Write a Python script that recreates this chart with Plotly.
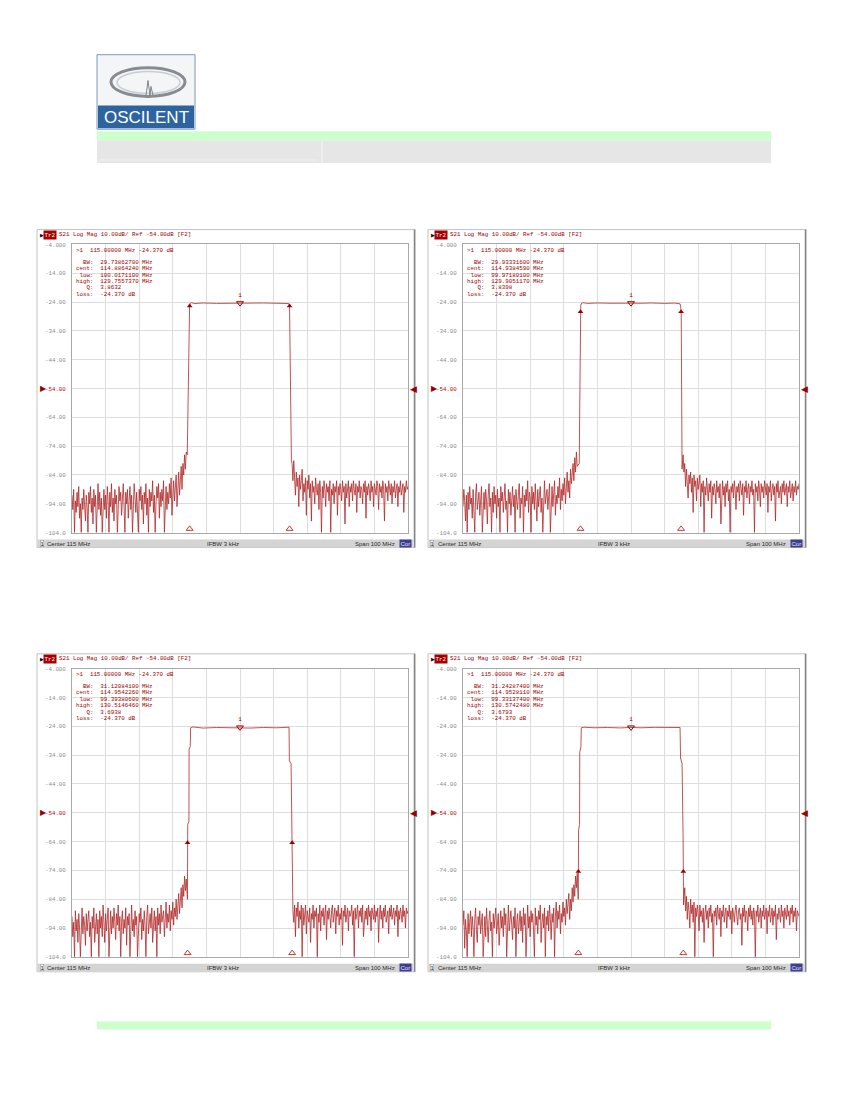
import plotly.graph_objects as go

# the page body keeps an 8 px margin, so the figure is drawn 8 px in
OFF = 8
W, H = 850 - 2 * OFF, 1100 - 2 * OFF

# sweep settings shown on the analyser screens
F_START, F_STOP, F_CENTER = 65.0, 165.0, 115.0
DB_TOP, DB_BOTTOM, DB_REF = -4.0, -104.0, -54.0
NOISE_STEP = 0.25     # MHz between stop-band samples
RIGHT_START = 130.5   # first upper stop-band sample (MHz)

x_grid = [65, 75, 85, 95, 105, 115, 125, 135, 145, 155, 165]
y_ticks = [-4, -14, -24, -34, -44, -54, -64, -74, -84, -94, -104]
y_tick_labels = ['-4.000', '-14.00', '-24.00', '-34.00', '-44.00', '-54.00',
                 '-64.00', '-74.00', '-84.00', '-94.00', '-104.0']

# marker readouts, one entry per screen
bw_mhz = ['29.73862700', '29.93331600', '31.12084100', '31.24287400']
cent_mhz = ['114.8864240', '114.9384590', '114.9542260', '114.9528110']
low_mhz = ['100.0171100', '99.97180100', '99.39380600', '99.33137400']
high_mhz = ['129.7557370', '129.9051170', '130.5146460', '130.5742480']
q_val = ['3.8632', '3.8398', '3.6938', '3.6793']
bw_drop_db = [1, 3, 40, 50]
marker1_mhz = 115.0
marker1_db = -24.370

# screen 1: lower stop band 65..99 MHz, pass band, upper stop band 130.5..165 MHz
p1_left_db = [-91, -96, -89, -104, -93, -97, -90, -95, -88, -99, -94, -104, -92, -96, -89, -93, -100, -91, -95, -104,
              -90, -94, -88, -97, -92, -101, -89, -95, -91, -104, -93, -87, -96, -90, -98, -92, -104, -94, -89, -96,
              -91, -99, -88, -93, -104, -90, -95, -87, -97, -92, -100, -89, -94, -91, -104, -96, -88, -93, -90, -98,
              -92, -87, -95, -104, -90, -94, -89, -99, -93, -88, -96, -91, -104, -94, -87, -92, -97, -90, -95, -104,
              -89, -93, -88, -96, -91, -101, -90, -94, -87, -98, -92, -104, -89, -95, -90, -93, -86, -97, -91, -104,
              -94, -88, -92, -87, -99, -90, -95, -89, -93, -86, -104, -91, -88, -96, -90, -94, -87, -92, -85, -98,
              -90, -86, -93, -88, -84, -95, -87, -83, -91, -85, -81, -89, -80, -84, -77, -82, -76]
p1_band_mhz = [99.3, 99.5, 99.8, 100.0, 100.2, 100.6, 101.4, 104, 108, 112,
               115, 118, 122, 126, 128.5, 129.5, 129.75, 129.9, 130.1, 130.3]
p1_band_db = [-77, -62, -30, -25.2, -24.4, -24.2, -24.5, -24.3, -24.45, -24.35,
              -24.37, -24.45, -24.3, -24.4, -24.35, -24.5, -25.3, -40, -70, -79]
p1_right_db = [-80, -86, -79, -84, -91, -83, -88, -85, -95, -84, -89, -86, -82, -93, -87, -90, -85, -98, -86, -89,
               -84, -92, -87, -100, -86, -90, -88, -94, -85, -89, -91, -87, -96, -86, -90, -104, -88, -92, -86, -89,
               -95, -87, -90, -88, -93, -86, -104, -89, -91, -87, -94, -88, -90, -86, -98, -88, -91, -87, -89, -93,
               -86, -90, -88, -101, -87, -92, -89, -86, -95, -88, -90, -87, -93, -86, -89, -91, -87, -97, -88, -90,
               -86, -92, -88, -89, -94, -87, -90, -86, -99, -88, -91, -87, -89, -93, -86, -90, -88, -95, -87, -89,
               -91, -86, -88, -96, -87, -90, -88, -92, -86, -89, -100, -87, -90, -88, -93, -86, -89, -91, -87, -94,
               -88, -90, -86, -92, -89, -87, -95, -88, -90, -86, -91, -89, -87, -97, -88, -90, -86, -89, -88]

# screen 2
p2_left_db = [-95, -89, -93, -100, -91, -104, -90, -96, -88, -94, -92, -99, -89, -95, -104, -91, -87, -96, -93, -90,
              -98, -92, -88, -104, -94, -90, -96, -89, -93, -101, -91, -87, -95, -92, -104, -90, -97, -88, -94, -91,
              -99, -89, -95, -92, -104, -88, -93, -90, -97, -91, -87, -96, -93, -104, -89, -94, -90, -98, -92, -88,
              -95, -91, -104, -89, -93, -96, -90, -87, -99, -92, -94, -88, -104, -91, -95, -89, -93, -86, -97, -90,
              -92, -104, -88, -94, -90, -96, -87, -93, -100, -89, -95, -91, -88, -97, -92, -104, -90, -86, -94, -91,
              -89, -96, -92, -87, -104, -93, -88, -95, -90, -86, -98, -91, -94, -88, -92, -85, -96, -89, -93, -87,
              -91, -85, -94, -88, -83, -90, -86, -92, -82, -87, -84, -80, -86, -78, -83, -76, -81]
p2_band_mhz = [99.6, 99.75, 99.9, 100.05, 100.3, 100.8, 102, 105, 109, 112,
               115, 118, 121, 125, 128, 129.6, 129.8, 129.95, 130.05, 130.2]
p2_band_db = [-80, -60, -28.5, -25.0, -24.4, -24.2, -24.45, -24.3, -24.4, -24.5,
              -24.37, -24.4, -24.3, -24.45, -24.35, -24.6, -25.8, -28.5, -55, -82]
p2_right_db = [-77, -83, -80, -88, -82, -86, -92, -84, -87, -83, -90, -85, -97, -84, -88, -86, -93, -85, -89, -87,
               -84, -95, -87, -90, -86, -104, -88, -91, -85, -89, -93, -87, -90, -86, -99, -88, -91, -87, -89, -94,
               -86, -90, -88, -92, -87, -101, -89, -86, -91, -88, -95, -87, -90, -86, -93, -89, -104, -88, -90, -87,
               -92, -86, -89, -96, -88, -90, -87, -93, -86, -89, -91, -87, -98, -88, -90, -86, -92, -89, -87, -94,
               -88, -90, -86, -91, -89, -104, -87, -90, -88, -93, -86, -89, -95, -87, -90, -88, -92, -86, -89, -91,
               -87, -97, -88, -90, -86, -93, -89, -87, -91, -88, -100, -87, -90, -86, -92, -89, -88, -94, -87, -90,
               -86, -91, -89, -87, -95, -88, -90, -86, -92, -89, -87, -93, -88, -90, -86, -91, -88, -89, -87]

# screen 3
p3_left_db = [-90, -97, -92, -104, -88, -95, -91, -99, -89, -94, -104, -92, -87, -96, -90, -93, -100, -89, -95, -91,
              -88, -97, -92, -104, -90, -94, -87, -99, -93, -89, -96, -91, -104, -88, -94, -90, -97, -86, -92, -99,
              -89, -95, -91, -87, -104, -93, -88, -96, -90, -94, -87, -92, -98, -89, -93, -86, -95, -90, -104, -92,
              -88, -96, -91, -94, -87, -100, -90, -93, -89, -104, -92, -86, -95, -91, -97, -88, -93, -90, -104, -94,
              -89, -92, -87, -98, -91, -95, -88, -93, -104, -90, -86, -96, -92, -89, -94, -87, -99, -91, -88, -95,
              -90, -104, -87, -93, -89, -96, -86, -92, -90, -88, -97, -91, -85, -94, -89, -92, -86, -95, -88, -91,
              -85, -93, -87, -90, -84, -91, -86, -82, -89, -84, -80, -87, -79, -83, -76, -81, -77]
p3_band_mhz = [99.36, 99.39, 99.45, 99.8, 99.85, 100.2, 100.3, 101, 104, 108, 112,
               115, 118, 122, 126, 129.6, 129.7, 130.2, 130.45, 130.51, 130.6]
p3_band_db = [-84, -64.4, -58, -57, -32, -31, -24.5, -24.2, -24.6, -24.4, -24.5,
              -24.37, -24.6, -24.4, -24.5, -24.3, -36, -37, -60, -64.4, -84]
p3_right_db = [-84, -88, -92, -86, -97, -87, -90, -85, -94, -88, -91, -86, -104, -87, -93, -89, -86, -96, -88, -90,
               -92, -87, -99, -89, -91, -86, -94, -88, -90, -87, -104, -89, -92, -86, -95, -88, -90, -87, -93, -89,
               -86, -98, -88, -91, -87, -90, -94, -88, -86, -92, -89, -87, -96, -88, -90, -86, -93, -89, -91, -87,
               -100, -88, -90, -86, -92, -89, -87, -95, -88, -90, -89, -86, -93, -88, -104, -87, -91, -89, -86, -94,
               -88, -90, -87, -92, -86, -97, -89, -88, -91, -87, -93, -86, -90, -88, -95, -87, -89, -91, -86, -92,
               -88, -90, -87, -99, -89, -86, -91, -88, -94, -87, -90, -86, -92, -89, -88, -96, -87, -90, -86, -91,
               -89, -87, -93, -88, -90, -86, -97, -88, -91, -87, -89, -92, -86, -90, -88, -94, -87, -89, -88]

# screen 4
p4_left_db = [-93, -88, -101, -91, -95, -104, -89, -96, -92, -88, -97, -90, -94, -104, -91, -87, -95, -99, -90, -93,
              -88, -96, -92, -89, -104, -94, -90, -97, -87, -93, -99, -91, -88, -95, -92, -104, -89, -94, -90, -87,
              -96, -92, -89, -100, -91, -88, -94, -90, -97, -87, -93, -89, -104, -91, -86, -95, -90, -88, -93, -98,
              -90, -94, -87, -104, -92, -89, -96, -91, -88, -95, -90, -99, -87, -93, -89, -104, -91, -86, -94, -90,
              -97, -88, -92, -89, -95, -104, -87, -93, -90, -96, -88, -91, -86, -99, -92, -89, -94, -87, -104, -90,
              -93, -88, -95, -86, -91, -98, -89, -92, -87, -104, -90, -85, -94, -88, -91, -86, -96, -89, -92, -85,
              -90, -87, -93, -84, -89, -86, -82, -91, -84, -88, -80, -85, -79, -83, -76, -80, -75]
p4_band_mhz = [99.3, 99.33, 99.4, 99.7, 99.75, 100.1, 100.2, 101, 104, 108, 112,
               115, 118, 122, 126, 129.6, 129.75, 130.2, 130.5, 130.57, 130.65]
p4_band_db = [-84, -74.4, -60, -58, -33, -31, -24.5, -24.3, -24.5, -24.4, -24.55,
              -24.37, -24.5, -24.35, -24.5, -24.4, -35, -37, -62, -74.4, -86]
p4_right_db = [-76, -84, -80, -88, -83, -91, -85, -88, -94, -84, -89, -86, -92, -85, -104, -87, -90, -86, -89, -95,
               -86, -90, -88, -92, -87, -99, -89, -86, -91, -88, -94, -87, -90, -86, -92, -89, -104, -88, -90, -87,
               -93, -86, -89, -91, -87, -97, -88, -90, -86, -92, -89, -87, -94, -88, -90, -86, -91, -88, -96, -87,
               -89, -92, -88, -86, -90, -93, -88, -87, -91, -89, -100, -87, -90, -86, -92, -88, -89, -95, -87, -90,
               -86, -91, -88, -93, -87, -89, -104, -88, -90, -86, -92, -89, -87, -94, -88, -90, -86, -91, -89, -87,
               -96, -88, -90, -86, -92, -89, -87, -93, -88, -90, -86, -98, -89, -91, -87, -89, -92, -86, -90, -88,
               -94, -87, -89, -91, -86, -90, -88, -93, -87, -89, -86, -92, -88, -90, -87, -95, -88, -89, -90]

sweeps = [(p1_left_db, p1_band_mhz, p1_band_db, p1_right_db),
          (p2_left_db, p2_band_mhz, p2_band_db, p2_right_db),
          (p3_left_db, p3_band_mhz, p3_band_db, p3_right_db),
          (p4_left_db, p4_band_mhz, p4_band_db, p4_right_db)]

# screen frames on the page, pixels (left, top)
panel_x = [37, 428, 37, 428]
panel_y = [228, 228, 655, 655]
PANEL_W, PANEL_H = 378, 320
PLOT_L, PLOT_R, PLOT_T, PLOT_B = 35, 371, 15, 305

MONO = 'Liberation Mono'
SANS = 'Liberation Sans'
TRACE = '#b02828'
DARK_RED = '#9a0000'


def px(x):
    return (x - OFF) / W


def py(y):
    return 1 - (y - OFF) / H


shapes = []
annotations = []


def rect(x0, y0, x1, y1, fill, line=None, width=0, layer='below'):
    shapes.append(dict(type='rect', xref='paper', yref='paper',
                       x0=px(x0), x1=px(x1), y0=py(y1), y1=py(y0),
                       fillcolor=fill, line=dict(color=line or fill, width=width),
                       layer=layer))


def vline(x, y0, y1, color, width=1):
    shapes.append(dict(type='line', xref='paper', yref='paper',
                       x0=px(x), x1=px(x), y0=py(y0), y1=py(y1),
                       line=dict(color=color, width=width), layer='below'))


def label(x, y, s, size=5.8, color=DARK_RED, family=MONO, xanchor='left', **kw):
    annotations.append(dict(xref='paper', yref='paper', x=px(x), y=py(y), text=s,
                            showarrow=False, xanchor=xanchor, yanchor='middle',
                            font=dict(family=family, size=size, color=color), **kw))


# page header: logo, green and grey bars
rect(97, 52, 195, 127, '#f3f5f7', '#7d9ab8', 1)
rect(98, 103, 194, 126, '#2d64a0')
label(146, 115.5, 'OSCILENT', size=17, color='white', family=SANS, xanchor='center')
shapes.append(dict(type='circle', xref='paper', yref='paper',
                   x0=px(111), x1=px(185), y0=py(94), y1=py(65),
                   line=dict(color='#878c93', width=3), layer='below'))
shapes.append(dict(type='circle', xref='paper', yref='paper',
                   x0=px(117), x1=px(180), y0=py(91), y1=py(69),
                   line=dict(color='#c9cdd2', width=1.5), layer='below'))
spike = [(146, 93), (148, 78), (150, 93), (151, 84), (153, 93)]
shapes.append(dict(type='path', xref='paper', yref='paper',
                   path='M ' + ' L '.join(f'{px(a):.5f},{py(b):.5f}' for a, b in spike),
                   line=dict(color='#80858c', width=1), layer='below'))
rect(97, 129, 771, 138, '#ccffcc')
rect(97, 138, 771, 161, '#e6e6e6')
vline(322, 139, 161, '#f6f6f6')
shapes.append(dict(type='line', xref='paper', yref='paper', x0=px(99), x1=px(318),
                   y0=py(158), y1=py(158), line=dict(color='#f0f0f0', width=1),
                   layer='below'))
rect(97, 1025, 771, 1033, '#ccffcc')

fig = go.Figure()
layout_axes = {}

tick_text = [f'<span style="color:#c00000">{t}</span>' if v == DB_REF else t
             for v, t in zip(y_ticks, y_tick_labels)]

for i, (left_db, band_mhz, band_db, right_db) in enumerate(sweeps):
    n = '' if i == 0 else str(i + 1)
    ox, oy = panel_x[i], panel_y[i]

    # screen frame, status bar
    rect(ox, oy, ox + PANEL_W, oy + PANEL_H, 'white', '#c2c2c2', 1)
    vline(ox + PANEL_W - 0.5, oy, oy + PANEL_H, '#858585', 1.5)
    rect(ox + 0.5, oy + 312, ox + PANEL_W - 1.5, oy + PANEL_H, '#d4d4d4')

    layout_axes['xaxis' + n] = dict(
        domain=[px(ox + PLOT_L), px(ox + PLOT_R)], range=[F_START, F_STOP],
        anchor='y' + n, tickvals=x_grid, showticklabels=False, ticks='',
        showgrid=True, gridcolor='#dddddd', gridwidth=1, zeroline=False,
        showline=True, mirror=True, linecolor='#a8a8a8', linewidth=1, fixedrange=True)
    layout_axes['yaxis' + n] = dict(
        domain=[py(oy + PLOT_B), py(oy + PLOT_T)], range=[DB_BOTTOM, DB_TOP],
        anchor='x' + n, tickvals=y_ticks, ticktext=tick_text,
        ticks='outside', ticklen=4, tickcolor='rgba(0,0,0,0)',
        tickfont=dict(family=MONO, size=5.8, color='#8c8c8c'),
        showgrid=True, gridcolor='#dddddd', gridwidth=1, zeroline=False,
        showline=True, mirror=True, linecolor='#a8a8a8', linewidth=1, fixedrange=True)

    # blank box behind the marker readout
    shapes.append(dict(type='rect', xref='paper', yref='paper',
                       x0=px(ox + 36), x1=px(ox + 143), y0=py(oy + 70), y1=py(oy + 16),
                       fillcolor='white', line=dict(width=0), layer='between'))

    # sweep trace
    f_left = [F_START + NOISE_STEP * k for k in range(len(left_db))]
    f_right = [RIGHT_START + NOISE_STEP * k for k in range(len(right_db))]
    fig.add_trace(go.Scatter(x=f_left + band_mhz + f_right,
                             y=left_db + band_db + right_db,
                             mode='lines', line=dict(color=TRACE, width=0.8),
                             xaxis='x' + n, yaxis='y' + n,
                             hoverinfo='skip', showlegend=False))

    # bandwidth markers
    lo, hi = float(low_mhz[i]), float(high_mhz[i])
    edge_db = marker1_db - bw_drop_db[i]
    fig.add_trace(go.Scatter(x=[lo, hi], y=[edge_db, edge_db], mode='markers',
                             marker=dict(symbol='triangle-up', size=5, color=DARK_RED),
                             xaxis='x' + n, yaxis='y' + n, hoverinfo='skip', showlegend=False))
    fig.add_trace(go.Scatter(x=[marker1_mhz], y=[marker1_db], mode='markers+text',
                             text=['1'], textposition='top center',
                             textfont=dict(family=MONO, size=6, color=DARK_RED),
                             marker=dict(symbol='triangle-down-open', size=6, color=DARK_RED,
                                         line=dict(width=1)),
                             xaxis='x' + n, yaxis='y' + n, hoverinfo='skip', showlegend=False))
    fig.add_trace(go.Scatter(x=[lo, hi], y=[DB_BOTTOM + 1.3, DB_BOTTOM + 1.3], mode='markers',
                             marker=dict(symbol='triangle-up-open', size=6, color='#c23a3a',
                                         line=dict(width=1)),
                             cliponaxis=False,
                             xaxis='x' + n, yaxis='y' + n, hoverinfo='skip', showlegend=False))
    fig.add_trace(go.Scatter(x=[F_CENTER], y=[DB_BOTTOM - 1.0], mode='markers',
                             marker=dict(symbol='triangle-up', size=9, color='#b00000'),
                             cliponaxis=False,
                             xaxis='x' + n, yaxis='y' + n, hoverinfo='skip', showlegend=False))

    # reference level arrows
    annotations.append(dict(xref='paper', yref='y' + n, x=px(ox + 0.5), y=DB_REF,
                            text='\u25b6', showarrow=False, xanchor='left', yanchor='middle',
                            font=dict(family='DejaVu Sans', size=8, color=DARK_RED)))
    annotations.append(dict(xref='x' + n + ' domain', yref='y' + n, x=1, y=DB_REF,
                            text='\u25c0', showarrow=False, xanchor='left', yanchor='middle',
                            font=dict(family='DejaVu Sans', size=9, color=DARK_RED)))

    # title line
    label(ox + 0.5, oy + 5, '\u25b6', size=5, family='DejaVu Sans', color='#300000')
    label(ox + 6, oy + 5, 'Tr2', size=5.8, color='white', bgcolor='#a80000', borderpad=0.5)
    label(ox + 20, oy + 5, 'S21 Log Mag 10.00dB/ Ref -54.00dB [F2]')

    # marker readout
    nb = '\u00a0'
    label(ox + 37, oy + 21, f'>1{nb * 2}115.00000 MHz -24.370 dB')
    rows = [('BW:', bw_mhz[i] + ' MHz'), ('cent:', cent_mhz[i] + ' MHz'),
            ('low:', low_mhz[i] + ' MHz'), ('high:', high_mhz[i] + ' MHz'),
            ('Q:', q_val[i]), ('loss:', f'{marker1_db:.3f} dB')]
    for k, (name, val) in enumerate(rows):
        line_txt = name.rjust(5).replace(' ', nb) + nb * 2 + val.replace(' ', nb)
        label(ox + 37, oy + 33 + 6.4 * k, line_txt)

    # status bar
    label(ox + 2.5, oy + 316, '1', size=5.8, family=SANS, color='#202020',
          bgcolor='#f4f4f4', bordercolor='#909090', borderwidth=0.5, borderpad=0)
    label(ox + 8, oy + 316, 'Center 115 MHz', size=6, family=SANS, color='#2a2a2a')
    label(ox + 186, oy + 316, 'IFBW 3 kHz', size=6, family=SANS, color='#2a2a2a',
          xanchor='center')
    label(ox + 360, oy + 316, 'Span 100 MHz', size=6, family=SANS, color='#2a2a2a',
          xanchor='right')
    label(ox + 361.5, oy + 316, 'Cor', size=6, family=SANS, color='#e8e8ff',
          bgcolor='#3b3f91', borderpad=0.5)

fig.update_layout(width=W, height=H, margin=dict(l=0, r=0, t=0, b=0),
                  paper_bgcolor='white', plot_bgcolor='white',
                  showlegend=False, shapes=shapes, annotations=annotations,
                  **layout_axes)

fig.write_html("out.html", config={'displayModeBar': False})
